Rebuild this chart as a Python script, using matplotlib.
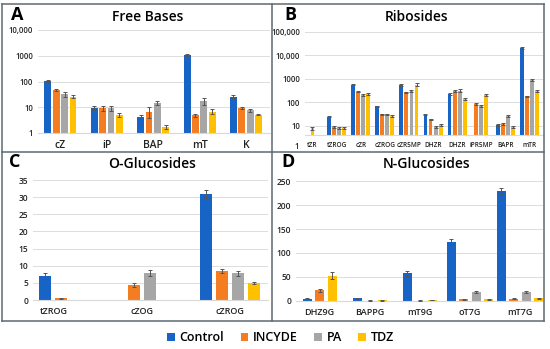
import numpy as np
import matplotlib
matplotlib.use("Agg")
from matplotlib import pyplot as plt
from matplotlib.lines import Line2D

plt.rcParams['font.family'] = ['Open Sans', 'DejaVu Sans']

series = ['Control', 'INCYDE', 'PA', 'TDZ']
colors = ['#1763C6', '#F47D22', '#A6A6A6', '#FFC000']
nan = np.nan

# A - Free Bases (log)
cats_a = ['cZ', 'iP', 'BAP', 'mT', 'K']
vals_a = [[105, 9.5, 4.2, 1100, 26],
          [46, 9, 6.8, 4.8, 9],
          [32, 9, 15, 17, 7.5],
          [26, 5, 1.7, 6.8, 5.2]]
errs_a = [[12, 1.5, 0.6, 100, 4],
          [5, 2, 3, 0.6, 0.8],
          [6, 2, 3, 5, 1],
          [3, 1, 0.3, 1.5, 0.4]]

# B - Ribosides (log)
cats_b = ['tZR', 'tZROG', 'cZR', 'cZROG', 'cZR5MP', 'DHZR', 'DHZR', 'iPR5MP', 'BAPR', 'mTR']
vals_b = [[nan, 25, 570, 68, 550, 30, 230, nan, 11, 21000],
          [nan, 9, 290, 31, 270, 19, 300, 88, 12, 180],
          [nan, 8, 210, 31, 300, 9.4, 320, 72, 27, 870],
          [7.8, 8, 230, 27, 570, 11, 140, 210, 9, 320]]
errs_b = [[nan, 2, 40, 5, 50, 2, 20, nan, 1, 2000],
          [nan, 0.8, 20, 2, 20, 1.5, 25, 8, 1.5, 15],
          [nan, 0.6, 15, 2.5, 25, 1, 40, 6, 2, 90],
          [1, 0.6, 20, 2, 80, 1, 12, 20, 1, 30]]

# C - O-Glucosides
cats_c = ['tZROG', 'cZOG', 'cZROG']
vals_c = [[7.0, nan, 31.0],
          [0.5, 4.4, 8.4],
          [nan, 7.9, 7.8],
          [nan, nan, 5.0]]
errs_c = [[0.8, nan, 1.2],
          [0.1, 0.6, 0.6],
          [nan, 0.9, 0.8],
          [nan, nan, 0.2]]

# D - N-Glucosides
cats_d = ['DHZ9G', 'BAPPG', 'mT9G', 'oT7G', 'mT7G']
vals_d = [[5, 6, 58, 123, 229],
          [22, 1, 1, 4, 5],
          [nan, nan, nan, 18, 19],
          [53, 1.2, 2, 4, 6]]
errs_d = [[1, 1, 5, 6, 6],
          [3, 0.3, 0.3, 1, 1],
          [nan, nan, nan, 2, 2],
          [8, 0.3, 0.5, 1, 1]]

fig = plt.figure(figsize=(5.5, 3.49), dpi=100)


def px_axes(left, top, right, bottom):
    return fig.add_axes([left / 550, 1 - bottom / 349, (right - left) / 550, (bottom - top) / 349])


def draw(ax, cats, vals, errs, step, width):
    vals = np.array(vals, dtype=float)
    errs = np.array(errs, dtype=float)
    handles = []
    for s in range(len(series)):
        xs, ys, es = [], [], []
        for c in range(len(cats)):
            # only the series with a value get a slot in the group
            present = [k for k in range(len(series)) if not np.isnan(vals[k, c])]
            if s not in present:
                continue
            n = len(present)
            pos = present.index(s)
            xs.append(c + (pos - (n - 1) / 2) * step)
            ys.append(vals[s, c])
            es.append(errs[s, c])
        h = ax.bar(xs, ys, width, color=colors[s], label=series[s], zorder=2)
        ax.errorbar(xs, ys, yerr=es, fmt='none', ecolor='#555555', elinewidth=0.7,
                    capsize=1.3, capthick=0.7, zorder=3)
        handles.append(h)
    ax.set_xticks(range(len(cats)))
    for sp in ['top', 'right', 'left']:
        ax.spines[sp].set_visible(False)
    ax.spines['bottom'].set_color('#d9d9d9')
    ax.tick_params(length=0, colors='#222222')
    ax.grid(axis='y', color='#dddddd', linewidth=0.7, zorder=0)
    ax.set_axisbelow(True)
    return handles


# A
ax = px_axes(38, 30, 270, 133)
handles = draw(ax, cats_a, vals_a, errs_a, 0.18, 0.15)
ax.set_yscale('log')
ax.set_ylim(1, 10000)
ax.set_xlim(-0.485, 4.52)
ax.set_yticks([1, 10, 100, 1000, 10000])
ax.set_yticklabels(['1', '10', '100', '1000', '10,000'], fontsize=5.5, fontweight='semibold')
ax.minorticks_off()
ax.set_xticklabels(cats_a, fontsize=7.5, fontweight='semibold')
ax.tick_params(axis='x', pad=5)

# B
ax = px_axes(305, 32, 543, 135)
draw(ax, cats_b, vals_b, errs_b, 0.21, 0.16)
ax.set_yscale('log')
ax.set_ylim(4.1, 100000)
ax.set_xlim(-0.31, 9.56)
ax.set_yticks([10, 100, 1000, 10000, 100000])
ax.set_yticklabels(['10', '100', '1000', '10,000', '100,000'], fontsize=5.5, fontweight='semibold')
ax.minorticks_off()
ax.set_xticklabels(cats_b, fontsize=4.7, fontweight='semibold')
ax.tick_params(axis='x', pad=5)
ax.text(-0.025, -0.11, '1', transform=ax.transAxes, ha='right', va='center',
        fontsize=5.5, fontweight='semibold', color='#222222')

# C
ax = px_axes(33, 180, 268, 300)
draw(ax, cats_c, vals_c, errs_c, 0.18, 0.136)
ax.set_ylim(0, 35)
ax.set_xlim(-0.23, 2.43)
ax.set_yticks(range(0, 36, 5))
ax.set_yticklabels([str(v) for v in range(0, 36, 5)], fontsize=6, fontweight='semibold')
ax.set_xticklabels(cats_c, fontsize=6.5, fontweight='semibold')
ax.tick_params(axis='x', pad=5)

# D
ax = px_axes(296, 181, 543, 301)
draw(ax, cats_d, vals_d, errs_d, 0.25, 0.18)
ax.set_ylim(0, 250)
ax.set_xlim(-0.47, 4.46)
ax.set_yticks(range(0, 251, 50))
ax.set_yticklabels([str(v) for v in range(0, 251, 50)], fontsize=6, fontweight='semibold')
ax.set_xticklabels(cats_d, fontsize=6.5, fontweight='semibold')
ax.tick_params(axis='x', pad=5)

# panel titles and letters
def ftext(x, y, s, **kw):
    fig.text(x / 550, 1 - y / 349, s, **kw)


ftext(148, 17, 'Free Bases', ha='center', va='center', fontsize=10, fontweight='semibold')
ftext(417, 17, 'Ribosides', ha='center', va='center', fontsize=10, fontweight='semibold')
ftext(152, 164, 'O-Glucosides', ha='center', va='center', fontsize=10, fontweight='semibold')
ftext(427, 164, 'N-Glucosides', ha='center', va='center', fontsize=10, fontweight='semibold')
ftext(11, 15, 'A', ha='left', va='center', fontsize=13, fontweight='bold')
ftext(284, 15, 'B', ha='left', va='center', fontsize=13, fontweight='bold')
ftext(9, 162, 'C', ha='left', va='center', fontsize=13, fontweight='bold')
ftext(281, 162, 'D', ha='left', va='center', fontsize=13, fontweight='bold')

# panel frame
def fline(x0, y0, x1, y1):
    fig.add_artist(Line2D([x0 / 550, x1 / 550], [1 - y0 / 349, 1 - y1 / 349],
                          transform=fig.transFigure, color='#5d6a72', linewidth=1.1))


fline(2, 4, 544, 4)
fline(2, 321, 544, 321)
fline(2, 4, 2, 321)
fline(544, 4, 544, 321)
fline(272, 4, 272, 321)
fline(2, 152, 544, 152)

fig.legend(handles, series, loc='center', bbox_to_anchor=(0.51, 0.032), ncol=4,
           frameon=False, handlelength=0.6, handleheight=0.6, handletextpad=0.4,
           columnspacing=1.3, prop={'size': 9, 'weight': 'semibold'})

fig.savefig('out.png', dpi=100)
